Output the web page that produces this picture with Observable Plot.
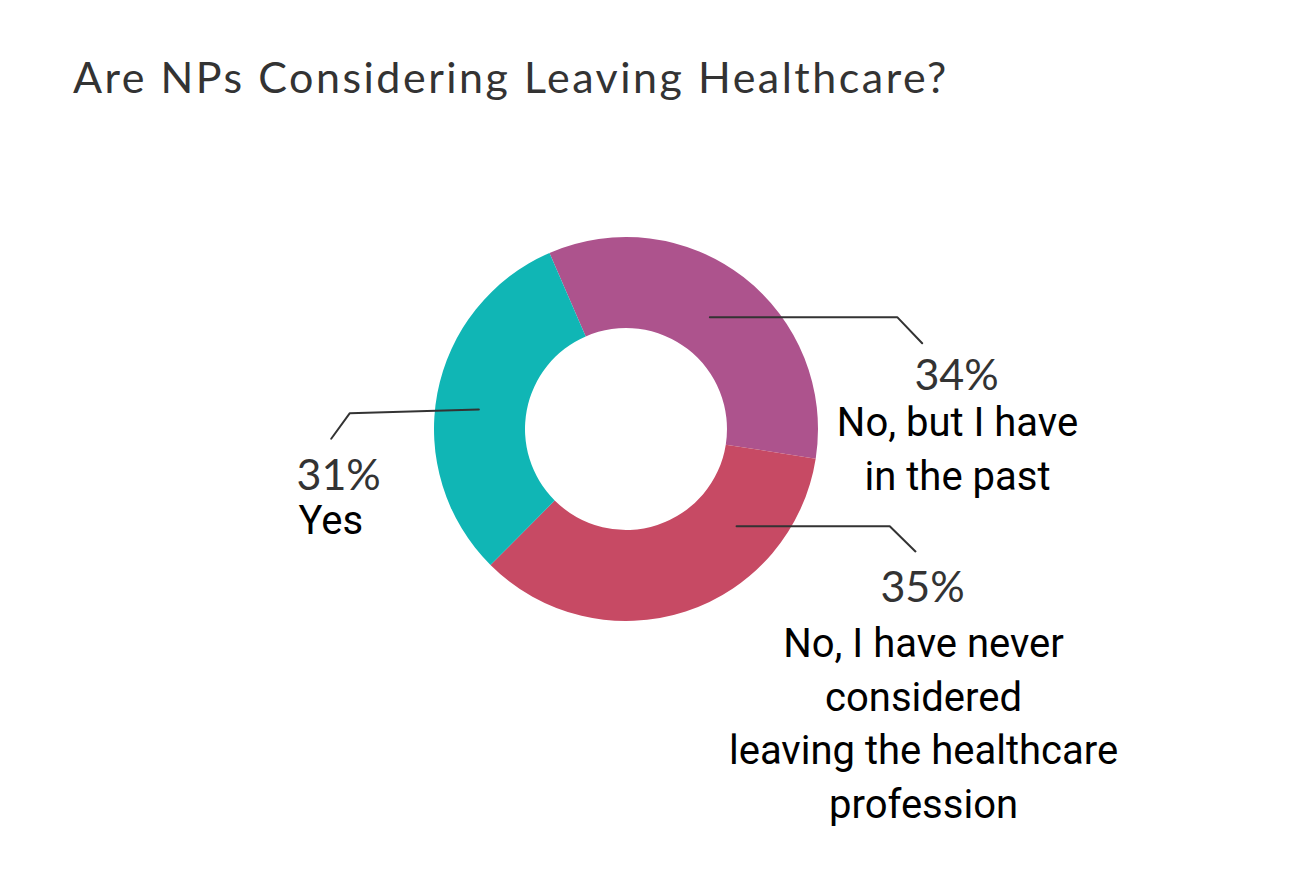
<!DOCTYPE html>
<html>
<head>
<meta charset="utf-8">
<script src="https://cdn.jsdelivr.net/npm/d3@7"></script>
<script src="https://cdn.jsdelivr.net/npm/@observablehq/plot@0.6"></script>
<style>
  html, body { margin: 0; padding: 0; background: #fff; }
  #title {
    font-family: Lato, "Open Sans", sans-serif;
    font-size: 43px;
    line-height: 43px;
    letter-spacing: 2.5px;
    color: #333;
    height: 140px;
    box-sizing: border-box;
    padding-left: 73px;
    padding-top: 55px;
    white-space: nowrap;
  }
  #chart svg { display: block; }
</style>
</head>
<body>
<div id="title">Are NPs Considering Leaving Healthcare?</div>
<div id="chart"></div>
<script>
// ---------- data ----------
const categories = [
  "No, but I have in the past",
  "No, I have never considered leaving the healthcare profession",
  "Yes"
];
const values = [34, 35, 31];
const percentLabels = ["34%", "35%", "31%"];
const categoryLines = [
  ["No, but I have", "in the past"],
  ["No, I have never", "considered", "leaving the healthcare", "profession"],
  ["Yes"]
];
const sliceColors = ["#ad538d", "#c74a64", "#10b6b5"];

// ---------- layout (unit = outer radius, origin = donut centre, y up) ----------
const startAngleDeg = -23.5;
const innerFrac = 0.526;
const leaderLayout = [
  { a: 36.6, r: 0.728, elbow: [1.410, 0.585], end: [1.540, 0.449] },
  { a: 131.3, r: 0.763, elbow: [1.371, -0.504], end: [1.505, -0.635] },
  { a: 277.7, r: 0.776, elbow: [-1.441, 0.085], end: [-1.538, -0.048] }
];
const labelLayout = [
  { px: 1.719, py: 0.208, cx: 1.724, cy: -0.036, anchor: "middle" },
  { px: 1.542, py: -0.899, cx: 1.547, cy: -1.186, anchor: "middle" },
  { px: -1.719, py: -0.3125, cx: -1.708, cy: -0.543, anchor: "start" }
];
const lineStep = 0.2785;

// ---------- derived tables ----------
const leaderPts = [];
leaderLayout.forEach((l, i) => {
  const a = l.a * Math.PI / 180;
  leaderPts.push({ k: i, x: l.r * Math.sin(a), y: l.r * Math.cos(a) });
  leaderPts.push({ k: i, x: l.elbow[0], y: l.elbow[1] });
  leaderPts.push({ k: i, x: l.end[0], y: l.end[1] });
});
const pctRows = percentLabels.map((t, i) => ({ text: t, x: labelLayout[i].px, y: labelLayout[i].py, anchor: labelLayout[i].anchor }));
const catRows = [];
categoryLines.forEach((lines, i) => {
  lines.forEach((t, j) => catRows.push({ text: t, x: labelLayout[i].cx, y: labelLayout[i].cy - j * lineStep, anchor: labelLayout[i].anchor }));
});

function donutMark(index, scales, vals, dims, context) {
  const cx = scales.x(0), cy = scales.y(0);
  const R = scales.x(1) - cx;
  const sa = startAngleDeg * Math.PI / 180;
  const arcs = d3.pie().sort(null).value(d => d).startAngle(sa).endAngle(sa + 2 * Math.PI)(values);
  const arc = d3.arc().innerRadius(R * innerFrac).outerRadius(R);
  const g = d3.create("svg:g").attr("transform", `translate(${cx},${cy})`);
  g.selectAll("path").data(arcs).join("path")
    .attr("d", arc)
    .attr("fill", (d, i) => scales.color ? scales.color(categories[i]) : sliceColors[i]);
  return g.node();
}

const W = 1290, H = 738;
const CX = 626, CY = 289, R = 192;

const pctFont = { fontFamily: "Lato, 'Open Sans', sans-serif", fontSize: 43, fill: "#333", lineAnchor: "bottom" };
const catFont = { fontFamily: "Roboto, sans-serif", fontSize: 40, fill: "#000", lineAnchor: "bottom" };

const chart = Plot.plot({
  width: W,
  height: H,
  margin: 0,
  x: { domain: [-1, 1], range: [CX - R, CX + R], axis: null },
  y: { domain: [-1, 1], range: [CY + R, CY - R], axis: null },
  color: { domain: categories, range: sliceColors },
  style: { background: "#fff", overflow: "visible" },
  marks: [
    donutMark,
    Plot.line(leaderPts, { x: "x", y: "y", z: "k", stroke: "#333", strokeWidth: 2, curve: "linear" }),
    Plot.text(pctRows.filter(d => d.anchor === "middle"), { x: "x", y: "y", text: "text", textAnchor: "middle", ...pctFont }),
    Plot.text(pctRows.filter(d => d.anchor === "start"), { x: "x", y: "y", text: "text", textAnchor: "start", ...pctFont }),
    Plot.text(catRows.filter(d => d.anchor === "middle"), { x: "x", y: "y", text: "text", textAnchor: "middle", ...catFont }),
    Plot.text(catRows.filter(d => d.anchor === "start"), { x: "x", y: "y", text: "text", textAnchor: "start", ...catFont })
  ]
});
document.getElementById("chart").appendChild(chart);
</script>
</body>
</html>
